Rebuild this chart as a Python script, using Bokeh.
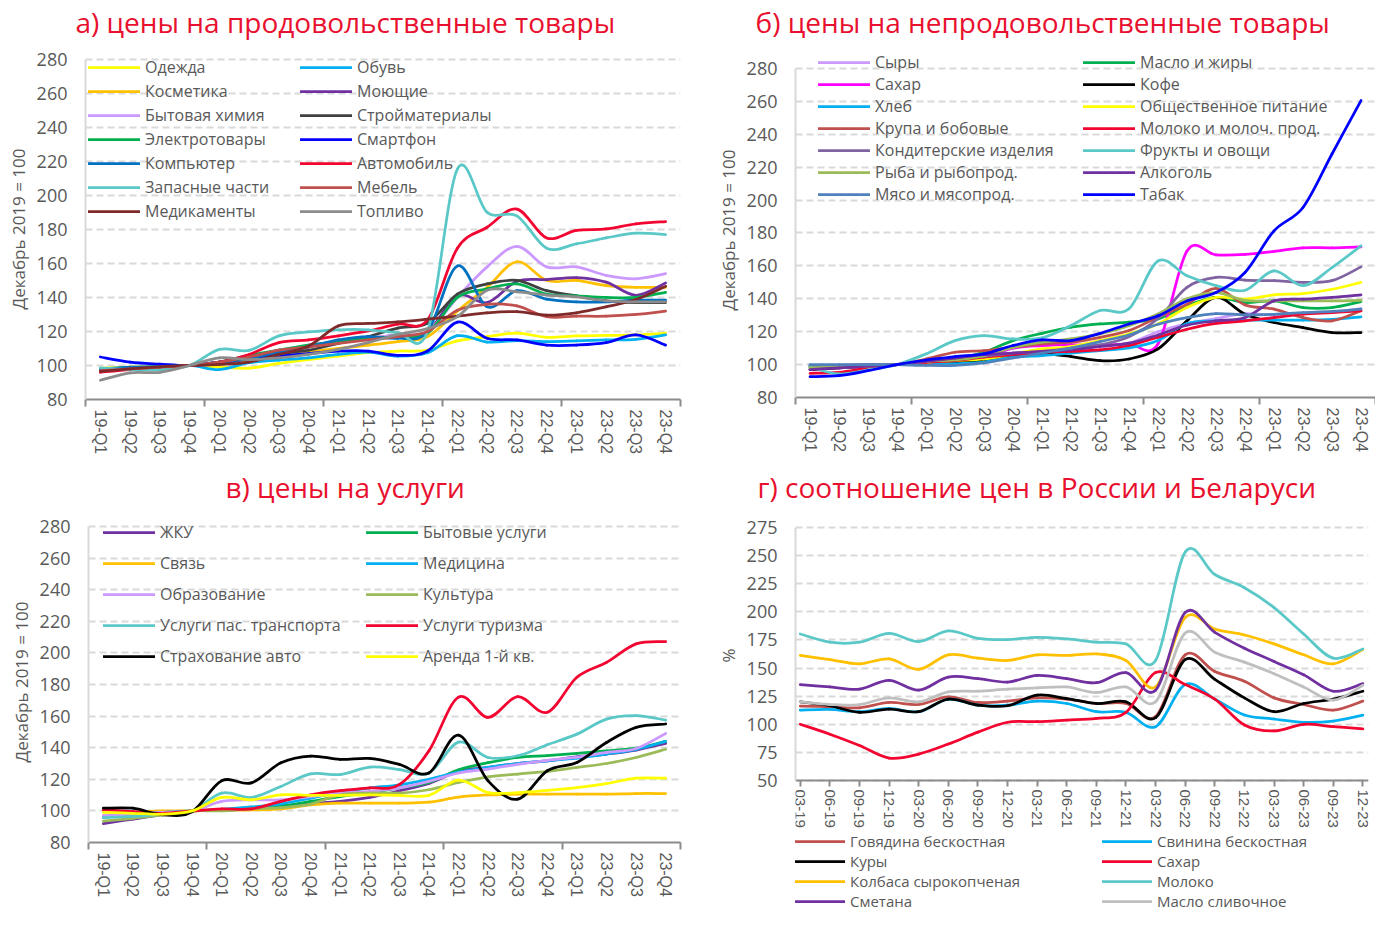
import numpy as np
from bokeh.plotting import figure
from bokeh.models import Range1d, FixedTicker, Legend, LegendItem, Title
from bokeh.layouts import column, row
from bokeh.embed import file_html
from bokeh.resources import INLINE

# ---------------- categories ----------------
quarters = ["19-Q1", "19-Q2", "19-Q3", "19-Q4", "20-Q1", "20-Q2", "20-Q3", "20-Q4",
            "21-Q1", "21-Q2", "21-Q3", "21-Q4", "22-Q1", "22-Q2", "22-Q3", "22-Q4",
            "23-Q1", "23-Q2", "23-Q3", "23-Q4"]
months = ["03-19", "06-19", "09-19", "12-19", "03-20", "06-20", "09-20", "12-20",
          "03-21", "06-21", "09-21", "12-21", "03-22", "06-22", "09-22", "12-22",
          "03-23", "06-23", "09-23", "12-23"]

# ---------------- panel a ----------------
a_names = ["Одежда", "Обувь", "Косметика", "Моющие", "Бытовая химия", "Стройматериалы",
           "Электротовары", "Смартфон", "Компьютер", "Автомобиль", "Запасные части",
           "Мебель", "Медикаменты", "Топливо"]
a_odezhda = [98.4, 99, 99.5, 100, 99.2, 98.4, 101.2, 103.5, 105.5, 107.5, 108.5, 109, 114.5, 117, 119, 116.6, 117.4, 117.7, 118, 119]
a_obuv = [98, 97.6, 98, 100, 97.6, 101.6, 103.2, 104.5, 106.5, 107.9, 105.5, 107.5, 117.5, 113.8, 114.6, 114, 114.4, 115, 115.4, 118]
a_kosmetika = [97, 98, 99, 100, 101, 103, 106, 108, 110, 112, 114, 117, 132, 146, 161, 150, 150, 147, 146, 146]
a_moyushchie = [97, 98, 99, 100, 101, 104, 108, 111, 114, 116, 118, 120, 141, 137, 149.5, 150.5, 151.7, 149, 141.3, 148.5]
a_himiya = [97, 98, 99, 100, 102, 105, 108, 112, 114, 116, 118, 120, 140, 158, 170, 158, 158, 153, 151, 154]
a_stroymat = [97, 98, 99, 100, 102, 104, 107, 109, 113, 117, 122, 125, 142, 148, 150, 144, 141, 138, 137, 137]
a_elektro = [98, 98.5, 99, 100, 102, 106, 109, 112, 114, 116, 117, 119, 140, 145, 148, 142, 141, 140, 140, 143]
a_smartfon = [105, 102, 100.8, 100, 102, 104.5, 105.5, 107, 108.5, 108.5, 106, 108.5, 125.5, 116, 115, 112, 112, 113.4, 118, 112]
a_kompyuter = [98, 99, 99.5, 100, 102, 104, 108, 111, 115, 117, 116, 120, 158.5, 134.5, 144, 139, 137.4, 137.4, 138.4, 138.4]
a_avto = [96, 97.6, 98.6, 100, 102, 106.5, 113.4, 115, 117.4, 120.3, 124.3, 126.8, 169, 181.3, 192, 175, 179.4, 180.3, 183.3, 184.6]
a_zapchasti = [98.6, 97.6, 97.6, 100, 109.5, 108.9, 117.4, 119.7, 121, 121, 119.3, 120.3, 215.5, 190, 188, 169, 171.5, 175, 177.8, 177]
a_mebel = [97, 98, 99, 100, 102, 105, 109, 111, 113, 115, 117, 120, 132.5, 136, 135, 128.7, 129, 129, 130, 132]
a_medikamenty = [96.6, 98, 99.2, 100, 100.6, 102, 106.5, 111.4, 123.3, 124.7, 125.6, 127.2, 129, 131, 131.6, 129.6, 131, 134.5, 138.8, 146.6]
a_toplivo = [91.3, 95.7, 96, 100, 104.5, 103.5, 104.5, 106.5, 109.5, 113.4, 118.3, 121.7, 128.7, 144.3, 143.3, 141.4, 140.4, 138, 137.4, 137.4]
a_colors = ["#ffff00", "#00b0f0", "#ffc000", "#7030a0", "#cc99ff", "#404040", "#00b050",
            "#0000ff", "#0070c0", "#f20530", "#5bc8c8", "#c0504d", "#7f2a2a", "#8c8c8c"]

# ---------------- panel b ----------------
b_names = ["Сыры", "Масло и жиры", "Сахар", "Кофе", "Хлеб", "Общественное питание",
           "Крупа и бобовые", "Молоко и молоч. прод.", "Кондитерские изделия",
           "Фрукты и овощи", "Рыба и рыбопрод.", "Алкоголь", "Мясо и мясопрод.", "Табак"]
b_syry = [99, 99.5, 99.8, 100, 101, 102, 103, 105, 107, 109, 111, 113, 120, 125, 128, 131, 130, 131, 132, 134]
b_maslo = [98.8, 99, 99.5, 100, 101.4, 103.4, 107.5, 114.6, 119, 122.7, 124.7, 125.8, 127.8, 135.7, 140.8, 137.7, 138.7, 134.7, 134.7, 138.3]
b_sahar = [97, 98, 99, 100, 100, 101, 104, 110, 111.6, 112.2, 111.6, 112.6, 112.5, 169, 166.7, 167, 168.8, 171, 171, 171.6]
b_kofe = [97, 98, 99, 100, 100.4, 101.4, 102.8, 105.5, 106.5, 104.9, 102.4, 103.4, 109.5, 126.6, 140.8, 130.6, 125.6, 122.5, 119.5, 119.5]
b_hleb = [98, 98.5, 99, 100, 100.5, 100.5, 101.5, 104.5, 105.5, 106.9, 108.5, 110.1, 114.6, 125, 126.6, 127, 127, 127, 127.5, 129]
b_obshchepit = [98, 98.5, 99, 100, 101.4, 102.4, 103.4, 106.5, 109.5, 111, 114.6, 118.7, 124.7, 134.7, 140.8, 139.8, 142.4, 143.2, 145.8, 150]
b_krupa = [99, 99.5, 99.8, 100, 103.4, 107.5, 108.5, 110.5, 112.6, 113.6, 116.6, 120.7, 128.8, 136.7, 146.4, 136.3, 133.7, 128.6, 126.6, 132.7]
b_moloko = [94.7, 95.3, 98, 100, 101.4, 102.4, 104.5, 106.1, 107.5, 108.1, 108.9, 111.6, 116.6, 121.5, 125, 126.6, 128.6, 130.6, 131.6, 132.7]
b_konditer = [99, 99.5, 99.8, 100, 102, 104, 105, 107, 108, 110, 112, 117, 128, 147, 153, 151.3, 151, 150, 151, 159.4]
b_frukty = [98.4, 94.3, 96.8, 100, 106.5, 114.6, 117.6, 115.6, 116.2, 123.7, 132.9, 133.9, 163, 154, 148, 145.2, 157, 148, 159, 172.2]
b_ryba = [98, 98.5, 99, 100, 102, 102.8, 105.5, 110.5, 113.6, 115.6, 118.7, 123.7, 130.8, 140, 143.8, 139, 138.7, 138.7, 138.7, 139]
b_alkogol = [97, 98, 99, 100, 102, 104, 106, 107, 108, 109, 111, 113, 118, 124, 126.6, 128.6, 138.7, 139.8, 140.8, 142.4]
b_myaso = [100, 100, 100, 100, 99.5, 99.5, 101, 104, 107, 110, 114, 118, 124.5, 128.6, 131, 130.2, 130.6, 131.6, 132.3, 133.7]
b_tabak = [92.7, 93.3, 96.3, 100, 102.8, 104.9, 106.5, 111.6, 115, 114.6, 119, 124.7, 129.6, 138.7, 143.8, 156, 181.3, 195.5, 228, 260.5]
b_colors = ["#cc99ff", "#00b050", "#ff00ff", "#000000", "#00b0f0", "#ffff00", "#c0504d",
            "#f20530", "#8064a2", "#5bc8c8", "#9bbb59", "#7030a0", "#4f81bd", "#0000ff"]

# ---------------- panel c ----------------
c_names = ["ЖКУ", "Бытовые услуги", "Связь", "Медицина", "Образование", "Культура",
           "Услуги пас. транспорта", "Услуги туризма", "Страхование авто", "Аренда 1-й кв."]
c_zhku = [92, 94.8, 97.6, 100, 100.4, 101.7, 103.2, 104.7, 106, 108.5, 112.7, 117.3, 125, 127.5, 130, 131.7, 134.2, 136, 138.5, 142.7]
c_bytovye = [96, 97.5, 99, 100, 100.5, 101.3, 103, 106, 109, 111.5, 114.5, 118, 126, 130.5, 133.8, 135, 136.4, 138, 139.7, 144]
c_svyaz = [97, 99, 100, 100, 100.6, 100.6, 101.3, 103.8, 104.9, 104.9, 104.9, 105.5, 108.7, 110.1, 110.6, 110.6, 110.6, 110.6, 111, 111]
c_medicina = [96, 97.5, 99, 100, 101, 102.5, 104.5, 108, 112, 114.5, 116.5, 120, 124.5, 127.5, 130, 131.7, 133.4, 136, 139, 144]
c_obrazovanie = [97, 98, 99, 100, 106, 107, 107, 109, 111.3, 112.3, 114.5, 118.7, 124, 126.5, 129.5, 132, 134, 137, 139.5, 149]
c_kultura = [93.6, 95.3, 97.5, 100, 100, 101.3, 102.1, 104.3, 110.2, 111.3, 111.3, 113.4, 118, 121.6, 123.3, 125, 127.5, 130, 133.8, 139]
c_transport = [95.7, 96.5, 98, 100, 111.3, 108.5, 115.5, 123.4, 123, 127.7, 126.2, 124, 143.5, 133.8, 134.9, 141.9, 148.6, 158.1, 160.3, 157.5]
c_turizm = [100.6, 99.6, 98.5, 100, 101.3, 101.3, 106, 110.2, 112.8, 114.5, 116.6, 138, 172, 159.2, 172.3, 162.4, 184.6, 194, 205.7, 207.2]
c_strahovanie = [101.7, 101.7, 97.5, 99.5, 119.1, 117.7, 130.4, 134.7, 132.6, 133.2, 129.4, 124, 148, 119, 107.4, 125.4, 130.7, 143.3, 152.9, 155]
c_arenda = [99.1, 98.5, 97.9, 100, 108.5, 107, 110.2, 109.8, 109.8, 110.2, 109.8, 109.8, 119.5, 111.6, 111.6, 113, 114.8, 117.3, 120.7, 120.7]
c_colors = ["#7030a0", "#00b050", "#ffc000", "#00b0f0", "#cc99ff", "#9bbb59",
            "#5bc8c8", "#f20530", "#000000", "#ffff00"]

# ---------------- panel d ----------------
d_names = ["Говядина бескостная", "Свинина бескостная", "Куры", "Сахар",
           "Колбаса сырокопченая", "Молоко", "Сметана", "Масло сливочное"]
d_govyadina = [116.2, 115.6, 114.7, 119.4, 117.6, 124.4, 119.4, 120.6, 123.5, 122.4, 118.5, 118.5, 106.8, 161.8, 147, 138.2, 123.5, 117.6, 112.6, 120.6]
d_svinina = [112.6, 113.2, 111.2, 114.1, 111.2, 122.4, 117, 117, 120.6, 118.5, 111.2, 110.6, 97.9, 135.3, 122.4, 108.2, 104.7, 101.8, 102.9, 108.2]
d_kury = [120, 116.5, 110.6, 113.5, 111.2, 122.4, 117, 116.5, 125.9, 122.9, 118.5, 120, 105.9, 157.6, 140, 123.5, 111.2, 118.5, 122.4, 129.4]
d_sahar = [100, 91.2, 81.2, 70, 73.5, 82.4, 93, 101.8, 102.4, 103.8, 105.3, 110.6, 146, 135.3, 122.4, 99.4, 94.1, 100, 97.9, 95.9]
d_kolbasa = [161.2, 157.6, 153.8, 158.2, 148.8, 161.8, 158.8, 156.8, 161.8, 161.2, 162.6, 156.8, 133.2, 195, 184.7, 179.4, 171.5, 161.8, 153.8, 166.5]
d_moloko = [180.3, 173, 173, 180.9, 173.5, 183, 176.5, 175.3, 177.4, 175.9, 173, 171.5, 156.8, 253.2, 233.2, 221.5, 203.8, 180.3, 158.8, 167]
d_smetana = [135.3, 133.2, 131.2, 139.1, 130.3, 142, 140.6, 137.6, 143.5, 140.6, 137, 145.9, 130.3, 199.4, 181.8, 167.6, 155.9, 144, 129.4, 136.2]
d_maslo = [120, 117.6, 117.6, 123.5, 120, 128.8, 129.4, 131.2, 132.4, 133.2, 128.2, 133.2, 120, 181.2, 164.1, 155.3, 145, 133.2, 121.5, 134.7]
d_colors = ["#c0504d", "#00b0f0", "#000000", "#f20530", "#ffc000", "#5bc8c8", "#7030a0", "#bfbfbf"]

TXT = "#595959"
GRID = "#d9d9d9"
AXIS = "#8c8c8c"
TITLE_RED = "#e8102e"
LW = 2.75


def smooth_line(p, xs, ys, color):
    """Smoothed series drawn as Bezier segments whose control points come from the data."""
    x = np.asarray(xs, dtype=float)
    y = np.asarray(ys, dtype=float)
    xp = np.concatenate([[x[0]], x, [x[-1]]])
    yp = np.concatenate([[y[0]], y, [y[-1]]])
    i = np.arange(len(x) - 1)
    cx0 = xp[i + 1] + (xp[i + 2] - xp[i]) / 6.0
    cy0 = yp[i + 1] + (yp[i + 2] - yp[i]) / 6.0
    cx1 = xp[i + 2] - (xp[i + 3] - xp[i + 1]) / 6.0
    cy1 = yp[i + 2] - (yp[i + 3] - yp[i + 1]) / 6.0
    return p.bezier(x0=x[:-1], y0=y[:-1], x1=x[1:], y1=y[1:], cx0=cx0, cy0=cy0, cx1=cx1, cy1=cy1,
                    line_color=color, line_width=LW, line_cap="round")


def base_fig(width, xr, yr, borders, title, t_offset, yticks, ybounds, ylabel, ylabel_offset):
    l, r, t, b = borders
    p = figure(width=width, height=456, x_range=xr, y_range=yr, output_backend="svg",
               toolbar_location=None, min_border_left=l, min_border_right=r,
               min_border_top=t, min_border_bottom=b)
    p.frame_align = False
    p.outline_line_color = None
    p.background_fill_color = "white"
    p.border_fill_color = "white"
    p.title.text = title
    p.title.align = "left"
    p.title.offset = t_offset
    p.title.standoff = 0
    p.title.text_font = "Open Sans"
    p.title.text_font_size = "28px"
    p.title.text_font_style = "normal"
    p.title.text_color = TITLE_RED
    p.xgrid.visible = False
    p.ygrid.grid_line_color = GRID
    p.ygrid.grid_line_width = 2
    p.ygrid.grid_line_dash = "7 4"
    ya = p.yaxis[0]
    ya.ticker = FixedTicker(ticks=yticks)
    ya.bounds = ybounds
    ya.axis_line_color = GRID
    ya.axis_line_width = 2
    ya.major_tick_line_color = None
    ya.major_tick_out = 0
    ya.major_tick_in = 0
    ya.minor_tick_line_color = None
    ya.major_label_text_font = "Open Sans"
    ya.major_label_text_font_size = "18px"
    ya.major_label_text_color = TXT
    ya.major_label_standoff = 18
    # value-axis caption, placed along the left side at the reference height
    p.add_layout(Title(text=ylabel, align="right", offset=ylabel_offset, standoff=8,
                       text_font="Open Sans", text_font_size="17px",
                       text_font_style="normal", text_color=TXT), "left")
    xa = p.xaxis[0]
    xa.axis_line_color = AXIS
    xa.axis_line_width = 2
    xa.major_label_orientation = "vertical"
    xa.major_label_text_font = "Liberation Sans"
    xa.major_label_text_font_size = "16px"
    xa.major_label_text_color = TXT
    return p


def quarter_axis(p):
    xa = p.xaxis[0]
    xa.ticker = FixedTicker(ticks=list(range(len(quarters))),
                            minor_ticks=[k - 0.5 for k in range(0, len(quarters) + 1, 4)])
    xa.major_label_overrides = {k: q for k, q in enumerate(quarters)}
    xa.major_tick_line_color = None
    xa.major_tick_out = 0
    xa.major_tick_in = 0
    xa.minor_tick_line_color = AXIS
    xa.minor_tick_line_width = 2
    xa.minor_tick_out = 7
    xa.minor_tick_in = 0
    xa.major_label_standoff = 3


def make_legend(renderers, names, loc, item_h, spacing, gw, label_w, fsize="16px"):
    items = [LegendItem(label=n, renderers=[r]) for n, r in zip(names, renderers)]
    return Legend(items=items, location=loc, orientation="horizontal", ncols=2,
                  glyph_width=gw, glyph_height=item_h, label_height=item_h,
                  label_width=label_w, spacing=spacing, padding=0, margin=0,
                  label_standoff=5, background_fill_alpha=0, border_line_color=None,
                  label_text_font="Open Sans", label_text_font_size=fsize,
                  label_text_color=TXT)


xq = list(range(len(quarters)))
YLAB = "Декабрь 2019 = 100"

# ---------------- panel a (page x 0..687, y 0..456) ----------------
pa = base_fig(687, Range1d(-0.5, 19.5), Range1d(80, 291.1), (85, 7, 40, 56),
              "а) цены на продовольственные товары", -10,
              list(range(80, 281, 20)), (80, 280), YLAB, 108)
quarter_axis(pa)
a_series = [a_odezhda, a_obuv, a_kosmetika, a_moyushchie, a_himiya, a_stroymat, a_elektro,
            a_smartfon, a_kompyuter, a_avto, a_zapchasti, a_mebel, a_medikamenty, a_toplivo]
ra = [smooth_line(pa, xq, s, c) for s, c in zip(a_series, a_colors)]
pa.add_layout(make_legend(ra, a_names, (3, 177), 22, 2, 52, 153))

# ---------------- panel b (page x 687..1375) ----------------
pb = base_fig(688, Range1d(-0.5, 19.5), Range1d(80, 297.0), (108, 0, 40, 59),
              "б) цены на непродовольственные товары", -40,
              list(range(80, 281, 20)), (80, 280), YLAB, 109)
quarter_axis(pb)
b_series = [b_syry, b_maslo, b_sahar, b_kofe, b_hleb, b_obshchepit, b_krupa, b_moloko,
            b_konditer, b_frukty, b_ryba, b_alkogol, b_myaso, b_tabak]
rb = [smooth_line(pb, xq, s, c) for s, c in zip(b_series, b_colors)]
pb.add_layout(make_legend(rb, b_names, (23, 192), 22, 0, 52, 208))

# ---------------- panel c (page y 456..912) ----------------
pc = base_fig(687, Range1d(-0.5, 19.5), Range1d(80, 293.3), (88, 7, 49, 70),
              "в) цены на услуги", 137,
              list(range(80, 281, 20)), (80, 280), YLAB, 96)
quarter_axis(pc)
c_series = [c_zhku, c_bytovye, c_svyaz, c_medicina, c_obrazovanie, c_kultura,
            c_transport, c_turizm, c_strahovanie, c_arenda]
rc = [smooth_line(pc, xq, s, c) for s, c in zip(c_series, c_colors)]
pc.add_layout(make_legend(rc, c_names, (15, 175), 22, 9, 52, 197))

# ---------------- panel d ----------------
# frame runs to the bottom of the figure; the category axis sits at y = 50
pd_ = base_fig(688, Range1d(-0.16, 19.19), Range1d(-67.4, 294.6), (108, 7, 49, 0),
               "г) соотношение цен в России и Беларуси", -38,
               list(range(50, 276, 25)), (50, 275), "%", 143)
xa = pd_.xaxis[0]
xa.fixed_location = 50
xa.ticker = FixedTicker(ticks=list(range(len(months))))
xa.major_label_overrides = {k: m for k, m in enumerate(months)}
xa.major_label_text_font_size = "15px"
xa.major_tick_line_color = AXIS
xa.major_tick_line_width = 2
xa.major_tick_out = 6
xa.major_tick_in = 0
xa.minor_tick_line_color = None
xa.major_label_standoff = 3
xm = list(range(len(months)))
d_series = [d_govyadina, d_svinina, d_kury, d_sahar, d_kolbasa, d_moloko, d_smetana, d_maslo]
rd = [smooth_line(pd_, xm, s, c) for s, c in zip(d_series, d_colors)]
pd_.add_layout(make_legend(rd, d_names, (0, 1), 20, 0, 50, 252, fsize="15px"))

layout = column(row(pa, pb), row(pc, pd_))
open("out.html", "w").write(file_html(layout, INLINE))
